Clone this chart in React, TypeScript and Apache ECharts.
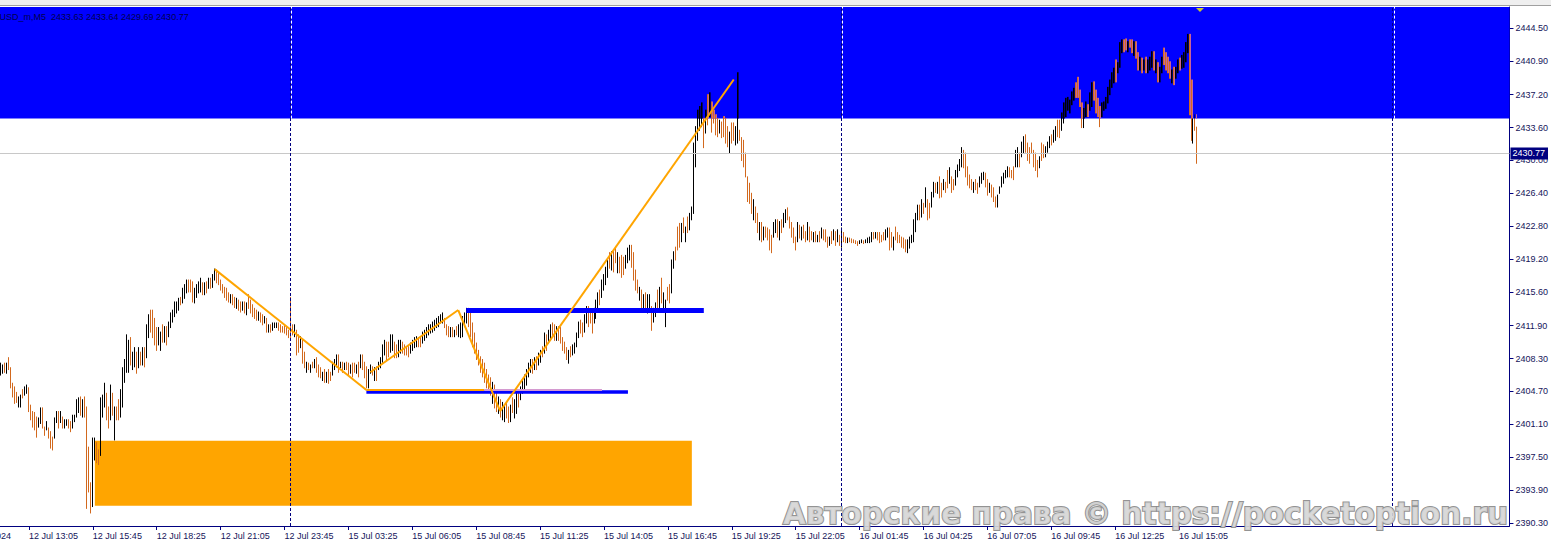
import React, { useEffect, useRef } from 'react';
import * as echarts from 'echarts';

// ---- data: 5-minute bars, XAUUSD (high / low / direction u=up d=down) ----
const jul12Hi = [
  2407.8, 2407.6, 2407.8, 2407.8, 2408.4, 2407.3, 2405.6, 2405.2, 2404.6, 2404.1,
  2404.3, 2404.9, 2405.2, 2405.4, 2405.1, 2403.2, 2402.5, 2402.4, 2401.9, 2401.8,
  2402.9, 2402.9, 2400.8, 2401.4, 2400.7, 2400.3, 2399.7, 2401.8, 2402.5, 2402.5,
  2402.5, 2401.9, 2401.6, 2401.6, 2401.6, 2401.4, 2402.1, 2402.1, 2403.8, 2404.0,
  2404.1, 2403.8, 2404.1, 2403.0, 2398.6, 2394.7, 2399.6, 2399.6, 2399.1, 2398.3,
  2404.0, 2404.3, 2405.6, 2404.5, 2403.0, 2405.4, 2404.5, 2403.0, 2403.0, 2403.8,
  2404.9, 2407.3, 2408.2, 2410.9, 2410.3, 2410.6, 2409.0, 2409.5, 2409.0, 2409.5,
  2409.0, 2409.5, 2409.5, 2412.0, 2413.1, 2413.6, 2413.6, 2412.7, 2411.7, 2411.7,
  2411.2, 2412.0, 2411.8, 2411.8, 2412.3, 2413.3, 2413.6, 2414.5, 2414.5, 2414.9,
  2415.0, 2416.0, 2416.4, 2416.9, 2416.9, 2416.9, 2416.7, 2416.0, 2416.4, 2416.7,
  2417.1, 2416.6, 2416.6, 2416.7, 2417.1, 2417.1, 2417.5, 2418.1, 2418.0, 2417.7,
  2416.9, 2416.4, 2416.1, 2416.0, 2415.5, 2415.3, 2415.3, 2415.0, 2414.9, 2414.7,
  2414.5, 2414.5, 2414.5, 2414.4, 2415.3, 2414.7, 2414.2, 2413.8, 2413.6, 2413.4,
  2413.3, 2413.1, 2412.9, 2412.7, 2412.0, 2412.0, 2412.2, 2412.2, 2412.2, 2412.2,
  2412.0, 2411.8, 2412.0, 2411.7, 2411.4,
];
const jul12Lo = [
  2406.5, 2406.7, 2406.8, 2406.7, 2407.1, 2405.1, 2404.1, 2403.4, 2403.5, 2403.0,
  2403.0, 2404.0, 2404.3, 2404.5, 2402.5, 2401.6, 2400.8, 2400.5, 2399.7, 2400.8,
  2401.2, 2400.7, 2399.9, 2400.5, 2399.6, 2398.5, 2398.3, 2399.6, 2401.3, 2400.7,
  2401.3, 2400.7, 2400.7, 2401.0, 2400.7, 2400.3, 2400.7, 2401.4, 2401.9, 2402.4,
  2402.1, 2401.9, 2401.9, 2391.9, 2393.7, 2391.4, 2392.1, 2397.2, 2396.9, 2396.7,
  2397.7, 2401.9, 2403.0, 2401.6, 2400.7, 2401.6, 2402.1, 2399.4, 2401.6, 2401.6,
  2401.9, 2403.0, 2405.7, 2406.8, 2406.8, 2407.6, 2407.1, 2407.4, 2406.7, 2407.3,
  2407.6, 2407.6, 2407.4, 2408.4, 2410.6, 2411.2, 2410.6, 2409.8, 2409.2, 2409.8,
  2409.2, 2410.1, 2410.1, 2409.8, 2410.7, 2411.7, 2412.3, 2412.9, 2413.3, 2413.6,
  2414.2, 2414.4, 2414.9, 2415.5, 2415.6, 2415.6, 2414.5, 2414.4, 2415.0, 2415.5,
  2415.6, 2415.3, 2415.3, 2415.5, 2416.0, 2416.0, 2416.1, 2416.9, 2416.6, 2416.4,
  2415.8, 2415.5, 2415.0, 2414.7, 2414.5, 2414.4, 2414.2, 2413.9, 2413.8, 2413.6,
  2413.4, 2413.6, 2413.3, 2413.1, 2413.8, 2413.3, 2412.9, 2412.7, 2412.5, 2412.5,
  2412.3, 2412.0, 2412.2, 2411.2, 2411.2, 2411.2, 2411.4, 2411.7, 2411.7, 2411.4,
  2411.2, 2411.2, 2411.1, 2410.9, 2410.6,
];
const jul12Dir =
  'uududddddu' + 'uduudddddu' + 'udduddduud' + 'uduudduuuu' + 'dudddduudd' +
  'uuuddududd' + 'uuuuuduudu' + 'duduuddddu' + 'ududuuuuuu' + 'duuuddduuu' +
  'udududuudd' + 'ddddduddud' + 'dududddddu' + 'ddududuuud' + 'ddddd';

const jul15Hi = [
  2415.0, 2412.0, 2412.0, 2411.4, 2410.9, 2410.7, 2410.3, 2409.0, 2407.9, 2407.8,
  2407.6, 2407.9, 2408.2, 2408.4, 2407.6, 2407.3, 2406.8, 2407.1, 2406.8, 2407.1,
  2406.8, 2407.9, 2408.2, 2408.7, 2408.7, 2407.9, 2407.9, 2407.8, 2407.9, 2407.8,
  2407.6, 2407.8, 2407.8, 2407.6, 2407.9, 2408.7, 2408.7, 2407.9, 2407.4, 2407.1,
  2407.6, 2407.4, 2407.3, 2407.4, 2407.9, 2408.4, 2409.8, 2410.3, 2410.1, 2410.1,
  2410.9, 2410.9, 2410.1, 2409.8, 2410.3, 2410.3, 2410.1, 2409.8, 2409.6, 2409.6,
  2410.0, 2410.3, 2410.6, 2410.7, 2410.6, 2410.7, 2411.2, 2411.4, 2411.7, 2412.0,
  2412.0, 2412.3, 2412.5, 2412.7, 2412.9, 2413.1, 2413.3, 2412.7, 2412.0, 2411.8,
  2411.7, 2411.7, 2411.4, 2411.8, 2412.0, 2412.2, 2412.9, 2413.3, 2413.8, 2413.8,
  2413.6, 2412.2, 2411.1, 2410.0, 2409.2, 2408.5, 2408.2, 2407.8, 2407.1, 2406.5,
  2406.2, 2405.7, 2405.4, 2404.6, 2404.1, 2403.8, 2403.5, 2403.2, 2403.4, 2403.0,
  2403.2, 2404.0, 2403.8, 2404.5, 2404.6, 2405.2, 2406.0, 2406.5, 2407.1, 2407.8,
  2408.2, 2408.2, 2408.4, 2408.5, 2408.9, 2409.2, 2409.6, 2411.1, 2410.9, 2411.4,
  2412.0, 2412.2, 2412.0, 2411.8, 2411.8, 2411.7, 2410.6, 2410.1, 2409.5, 2409.2,
  2409.6, 2409.8, 2410.0, 2411.1, 2412.3, 2412.5, 2412.2, 2413.1, 2414.0, 2414.0,
  2413.4, 2413.6, 2413.8, 2414.7, 2415.5, 2415.8, 2416.9, 2417.5, 2418.3, 2419.1,
  2419.9, 2420.0, 2420.2, 2420.4, 2419.9, 2419.4, 2419.6, 2419.4, 2419.6, 2420.4,
  2420.7, 2420.7, 2419.9, 2418.0, 2416.9, 2416.1, 2415.8, 2415.3, 2415.5, 2415.3,
  2415.3, 2414.0, 2413.8, 2414.4, 2415.8, 2416.1, 2417.1, 2415.5, 2414.7, 2416.1,
  2416.4, 2419.1, 2420.0, 2420.5, 2422.7, 2423.1, 2423.1, 2423.7, 2422.7, 2423.8,
  2424.2, 2424.9, 2431.9, 2433.7, 2435.5, 2435.9, 2436.3, 2434.6, 2435.5, 2437.2,
  2437.4, 2436.4, 2435.5, 2435.0, 2434.6, 2434.4, 2434.2, 2434.8, 2434.6, 2433.7,
  2433.1, 2434.1, 2434.1, 2433.7, 2439.6, 2433.3, 2432.5, 2432.2, 2430.8, 2428.2,
  2427.5, 2426.4, 2425.7, 2424.9, 2424.2, 2423.2, 2423.2, 2422.7, 2422.7, 2422.6,
  2422.4, 2421.8, 2423.2, 2423.5, 2423.5, 2423.3, 2423.5, 2424.2, 2424.6, 2424.8,
  2423.8, 2423.2, 2422.6, 2421.6, 2423.2, 2422.9, 2422.7, 2422.9, 2422.2, 2423.2,
  2422.7, 2422.2, 2422.1, 2422.2, 2421.8, 2422.2, 2422.6, 2422.4, 2422.4, 2421.6,
  2421.6, 2422.2, 2422.4, 2422.2, 2422.4, 2421.8,
];
const jul15Lo = [
  2410.6, 2410.9, 2410.7, 2408.7, 2409.0, 2409.5, 2407.8, 2407.3, 2406.8, 2407.1,
  2406.8, 2407.3, 2407.3, 2406.8, 2406.3, 2406.2, 2405.9, 2405.7, 2405.7, 2405.6,
  2405.9, 2406.5, 2407.1, 2407.4, 2406.8, 2407.3, 2406.8, 2407.1, 2407.1, 2406.5,
  2406.7, 2406.3, 2406.8, 2406.7, 2406.3, 2407.3, 2407.1, 2406.2, 2405.1, 2405.1,
  2406.7, 2406.5, 2405.9, 2405.9, 2407.1, 2407.3, 2407.9, 2408.7, 2408.2, 2408.5,
  2409.0, 2409.2, 2408.4, 2408.4, 2408.5, 2408.9, 2408.9, 2408.7, 2408.7, 2408.5,
  2408.9, 2409.2, 2409.5, 2409.6, 2409.6, 2409.6, 2410.0, 2410.3, 2410.6, 2410.9,
  2411.1, 2411.2, 2411.4, 2411.7, 2411.8, 2412.2, 2412.2, 2411.7, 2410.9, 2410.7,
  2410.7, 2410.7, 2410.7, 2410.9, 2410.7, 2410.6, 2410.7, 2411.8, 2412.2, 2411.8,
  2410.7, 2409.6, 2408.9, 2408.2, 2407.6, 2406.8, 2406.3, 2405.7, 2405.1, 2404.6,
  2404.3, 2403.4, 2402.9, 2402.5, 2402.3, 2401.9, 2401.6, 2401.4, 2401.8, 2401.3,
  2401.4, 2402.4, 2401.8, 2402.3, 2403.0, 2403.8, 2404.5, 2404.9, 2405.4, 2406.3,
  2406.8, 2406.7, 2407.1, 2407.1, 2407.6, 2407.9, 2408.5, 2408.9, 2409.2, 2410.0,
  2410.3, 2410.7, 2410.3, 2410.3, 2410.3, 2410.0, 2409.2, 2408.9, 2408.2, 2407.8,
  2408.5, 2408.7, 2408.9, 2409.6, 2410.6, 2411.1, 2410.7, 2411.2, 2412.2, 2411.8,
  2412.2, 2411.1, 2412.2, 2412.7, 2413.8, 2414.2, 2415.0, 2415.8, 2416.4, 2417.2,
  2418.2, 2418.0, 2417.8, 2418.8, 2417.7, 2417.7, 2417.2, 2417.5, 2418.2, 2418.8,
  2419.1, 2418.3, 2416.9, 2415.8, 2415.5, 2414.7, 2413.9, 2413.8, 2413.6, 2413.3,
  2413.6, 2411.4, 2412.3, 2412.9, 2413.6, 2413.9, 2414.4, 2413.8, 2411.8, 2414.7,
  2414.4, 2415.5, 2418.2, 2419.1, 2420.2, 2420.5, 2421.1, 2422.1, 2421.1, 2422.1,
  2422.4, 2423.5, 2424.2, 2429.3, 2432.2, 2433.3, 2433.7, 2431.4, 2433.0, 2433.9,
  2434.8, 2433.1, 2434.1, 2432.8, 2432.6, 2433.0, 2432.5, 2432.6, 2431.9, 2431.5,
  2430.8, 2431.9, 2432.2, 2431.7, 2431.9, 2432.2, 2430.0, 2429.3, 2428.2, 2425.5,
  2425.3, 2424.2, 2423.5, 2423.2, 2422.1, 2421.3, 2421.1, 2421.3, 2421.6, 2421.3,
  2420.2, 2419.9, 2421.6, 2422.1, 2421.6, 2421.3, 2422.1, 2422.7, 2423.2, 2423.5,
  2422.6, 2421.6, 2421.0, 2420.2, 2421.1, 2421.5, 2421.3, 2421.5, 2421.1, 2421.3,
  2421.1, 2421.3, 2421.1, 2421.1, 2421.1, 2421.1, 2421.5, 2421.3, 2421.1, 2420.5,
  2420.7, 2420.9, 2421.3, 2420.7, 2421.1, 2420.7,
];
const jul15Dir =
  'ddudduddud' + 'ududddudud' + 'duuudududd' + 'uddududddu' + 'ududuuuudd' +
  'uudduudddd' + 'uuuudduuuu' + 'uuuuuuuddd' + 'ududuuuuud' + 'dddddddddd' +
  'dudduduudd' + 'uduuduuuuu' + 'ududuududu' + 'uddudddddu' + 'duuuudduud' +
  'dduuuduuuu' + 'dudduddduu' + 'uddddududu' + 'uduududuud' + 'duudddudud' +
  'uuuuuuudud' + 'uddddudddd' + 'udduuddddd' + 'dduddududd' + 'dduududuud' +
  'ddddududdu' + 'ddudududdd' + 'ududud';

const jul16Hi = [
  2422.6, 2422.1, 2421.6, 2421.5, 2421.5, 2421.4, 2421.3, 2421.2, 2421.1, 2421.2,
  2421.3, 2421.2, 2421.3, 2421.5, 2421.6, 2422.1, 2422.1, 2422.1, 2422.1, 2422.1,
  2421.8, 2422.1, 2422.4, 2422.6, 2422.6, 2422.1, 2421.6, 2422.7, 2422.1, 2421.8,
  2421.6, 2421.5, 2421.3, 2421.3, 2421.6, 2421.8, 2423.5, 2424.2, 2425.1, 2425.1,
  2425.7, 2425.3, 2427.0, 2425.7, 2425.3, 2426.5, 2427.6, 2427.5, 2427.6, 2428.2,
  2427.5, 2427.9, 2427.6, 2428.9, 2429.2, 2428.2, 2427.9, 2428.9, 2429.5, 2430.1,
  2431.4, 2431.1, 2430.8, 2429.3, 2428.4, 2427.9, 2427.6, 2427.9, 2427.5, 2428.2,
  2428.6, 2428.7, 2428.6, 2427.9, 2427.5, 2427.3, 2427.0, 2426.0, 2426.2, 2427.1,
  2428.2, 2428.6, 2428.9, 2429.3, 2429.2, 2428.9, 2429.3, 2431.1, 2431.4, 2430.8,
  2432.0, 2432.6, 2432.8, 2431.9, 2431.4, 2431.9, 2431.1, 2430.8, 2430.0, 2430.4,
  2431.9, 2431.7, 2431.5, 2432.0, 2432.6, 2432.8, 2433.3, 2433.7, 2434.4, 2434.4,
  2435.2, 2436.3, 2436.8, 2436.9, 2436.6, 2437.5, 2437.9, 2438.5, 2439.1, 2437.7,
  2436.3, 2435.7, 2436.4, 2436.1, 2437.4, 2438.5, 2438.6, 2437.7, 2436.8, 2435.9,
  2436.3, 2436.4, 2436.9, 2438.0, 2438.8, 2439.6, 2440.1, 2441.0, 2440.7, 2442.9,
  2443.2, 2443.2, 2443.3, 2443.0, 2443.2, 2443.2, 2443.0, 2443.0, 2441.8, 2441.3,
  2441.2, 2441.0, 2441.3, 2441.0, 2441.3, 2441.9, 2441.9, 2441.0, 2440.7, 2440.2,
  2441.3, 2442.3, 2441.8, 2441.3, 2440.8, 2439.9, 2440.2, 2440.2, 2441.0, 2441.2,
  2441.5, 2441.8, 2442.9, 2443.8, 2443.8, 2438.8, 2435.0, 2435.0, 2433.64,
];
const jul16Lo = [
  2420.5, 2421.1, 2421.0, 2421.0, 2421.1, 2421.0, 2421.0, 2420.9, 2420.7, 2420.9,
  2421.0, 2420.9, 2421.0, 2421.0, 2421.0, 2421.1, 2421.4, 2421.5, 2421.3, 2421.0,
  2421.1, 2421.3, 2421.3, 2421.6, 2420.2, 2420.5, 2420.2, 2421.3, 2421.0, 2421.0,
  2420.5, 2420.4, 2420.0, 2419.9, 2420.4, 2421.0, 2421.1, 2422.2, 2423.5, 2423.5,
  2423.8, 2424.2, 2424.9, 2423.5, 2423.7, 2424.9, 2426.0, 2426.5, 2426.4, 2425.9,
  2426.0, 2426.8, 2426.5, 2427.0, 2427.5, 2426.5, 2426.8, 2427.3, 2428.2, 2428.9,
  2429.3, 2429.2, 2428.2, 2427.3, 2427.0, 2426.8, 2426.5, 2426.8, 2426.4, 2427.1,
  2427.5, 2427.9, 2427.1, 2426.2, 2426.5, 2426.0, 2425.5, 2424.9, 2424.9, 2426.4,
  2427.1, 2427.5, 2428.1, 2428.2, 2428.2, 2428.1, 2427.9, 2429.3, 2429.3, 2429.3,
  2430.4, 2430.8, 2430.9, 2430.0, 2429.7, 2430.8, 2429.3, 2428.9, 2428.2, 2429.2,
  2430.0, 2430.3, 2430.4, 2430.9, 2431.4, 2431.7, 2432.0, 2432.2, 2432.6, 2432.5,
  2433.3, 2434.1, 2434.8, 2435.5, 2435.2, 2436.1, 2436.6, 2436.9, 2436.9, 2435.9,
  2433.6, 2433.6, 2434.8, 2434.8, 2435.5, 2435.9, 2436.6, 2435.2, 2434.8, 2433.7,
  2434.8, 2435.5, 2435.7, 2436.3, 2437.2, 2438.0, 2438.5, 2438.6, 2439.6, 2440.2,
  2441.8, 2441.9, 2442.1, 2441.9, 2442.4, 2441.8, 2441.5, 2441.2, 2439.9, 2439.9,
  2439.6, 2439.9, 2439.6, 2439.6, 2439.9, 2440.2, 2439.9, 2439.6, 2438.6, 2438.6,
  2439.6, 2440.5, 2439.9, 2439.6, 2439.0, 2438.5, 2438.3, 2439.0, 2439.6, 2439.9,
  2440.1, 2440.2, 2440.8, 2441.8, 2435.0, 2432.2, 2431.9, 2433.3, 2429.69,
];
const jul16Dir =
  'uddudddddu' + 'uduuuududd' + 'dduudduddd' + 'ddduuuuuud' + 'ududduudud' +
  'duddudduuu' + 'uddddduddu' + 'uudduddduu' + 'uuuuddduud' + 'uudddddddu' +
  'dduuuduudd' + 'uuuuuuuddd' + 'duuduudddd' + 'uuuuuuuduu' + 'uddudduddu' +
  'duduuududu' + 'udddduduud' + 'uuuuddudd';

// chart levels & drawings (prices)
const yTickLabels = [
  '2444.50', '2440.90', '2437.20', '2433.60', '2430.00', '2426.40', '2422.80', '2419.20',
  '2415.60', '2411.90', '2408.30', '2404.70', '2401.10', '2397.50', '2393.90', '2390.30',
];
const lastPrice = 2430.77;
const supplyZone = { low: 2434.58 };
const demandZone = { from: 47, to: 346, high: 2399.31, low: 2392.2 };
const zigzag = [
  { i: 107, p: 2418.1 },
  { i: 183, p: 2404.86 },
];
const swingUp = [
  { i: 185, p: 2406.8 },
  { i: 229, p: 2413.62 },
  { i: 250, p: 2402.55 },
  { i: 367, p: 2438.86 },
];
const levelHigh = { from: 233, to: 352, p: 2413.54 };
const levelLow = { from: 183, to: 314, p: 2404.68 };
const levelLowMark = { from: 183, to: 242, p: 2404.86 };
const levelLowMark2 = { from: 242, to: 301, p: 2404.86 };

// time axis (M5 bars, with weekend and daily break)
const sessions = [
  { day: '12 Jul', startMin: 11 * 60 + 55, bars: 145 },
  { day: '15 Jul', startMin: 60, bars: 276 },
  { day: '16 Jul', startMin: 60, bars: 276 },
  { day: '17 Jul', startMin: 60, bars: 59 },
];
const pad = (n: number) => (n < 10 ? '0' + n : '' + n);
const categories: string[] = [];
for (const s of sessions) {
  for (let k = 0; k < s.bars; k++) {
    const m = s.startMin + 5 * k;
    categories.push(`${s.day} ${pad(Math.floor(m / 60))}:${pad(m % 60)}`);
  }
}
const daySeparators = ['15 Jul 01:00', '16 Jul 01:00', '17 Jul 01:00'];

const hiAll = [...jul12Hi, ...jul15Hi, ...jul16Hi];
const loAll = [...jul12Lo, ...jul15Lo, ...jul16Lo];
const dirAll = (jul12Dir + jul15Dir + jul16Dir).split('');
const barData = hiAll.map((h, i) => [i, loAll[i], h, dirAll[i] === 'u' ? 1 : 0]);
const barCount = hiAll.length;

const Y_MIN = 2389.97;
const Y_MAX = 2446.8;
const GRID_TOP = 7;
const GRID_BOTTOM = 17;
const CHART_H = 543;
const NAVY = '#000080';
const LABEL = '#14145a';
const FONT = 'Liberation Sans';

export default function App() {
  const ref = useRef<HTMLDivElement>(null);
  useEffect(() => {
    document.body.style.margin = '0';
    const chart = echarts.init(ref.current!, null, { renderer: 'svg' });
    const gridH = CHART_H - GRID_TOP - GRID_BOTTOM;
    const pxPerUnit = gridH / (Y_MAX - Y_MIN);
    const zoneH = (Y_MAX - supplyZone.low) * pxPerUnit;

    const labelShown = (idx: number) => idx >= 14 && idx < barCount && (idx - 14) % 32 === 0;
    const cat = (i: number) => categories[i];

    const makeBars = (up: string, down: string) => (params: any, api: any) => {
      const i = api.value(0);
      const a = api.coord([i, api.value(1)]);
      const b = api.coord([i, api.value(2)]);
      const x = Math.round(a[0] - 0.5) + 0.5;
      return {
        type: 'line',
        shape: { x1: x, y1: a[1] + 0.5, x2: x, y2: b[1] - 0.5 },
        style: { stroke: api.value(3) === 1 ? up : down, lineWidth: 1 },
      };
    };

    const seg = (a: { i: number; p: number }, b: { i: number; p: number }) => [
      { coord: [cat(a.i), a.p] },
      { coord: [cat(b.i), b.p] },
    ];
    const hline = (l: { from: number; to: number; p: number }) => [
      { coord: [cat(l.from), l.p] },
      { coord: [cat(l.to), l.p] },
    ];
    const styled = (pair: any[], lineStyle: any) => [{ ...pair[0], lineStyle }, pair[1]];
    const swingSegs = [
      seg(zigzag[0], zigzag[1]),
      seg(swingUp[0], swingUp[1]),
      seg(swingUp[1], swingUp[2]),
      seg(swingUp[2], swingUp[3]),
    ];

    const xAxisBase = {
      type: 'category',
      data: categories,
      boundaryGap: true,
    };

    chart.setOption({
      animation: false,
      backgroundColor: '#ffffff',
      grid: [
        { left: -0.5, right: 39.5, top: GRID_TOP, bottom: GRID_BOTTOM },
        { left: -0.5, right: 39.5, top: GRID_TOP, height: zoneH },
      ],
      xAxis: [
        {
          ...xAxisBase,
          gridIndex: 0,
          axisLine: { show: true, lineStyle: { color: NAVY, width: 1 } },
          axisTick: { show: true, alignWithLabel: true, interval: labelShown, length: 4, lineStyle: { color: NAVY } },
          axisLabel: {
            show: true,
            interval: labelShown,
            align: 'left',
            margin: 5,
            color: LABEL,
            fontFamily: FONT,
            fontSize: 9,
          },
          splitLine: { show: false },
        },
        { ...xAxisBase, gridIndex: 1, show: false },
      ],
      yAxis: [
        {
          type: 'value',
          gridIndex: 0,
          position: 'right',
          min: Y_MIN,
          max: Y_MAX,
          axisLine: { show: true, lineStyle: { color: NAVY, width: 1 } },
          axisTick: { show: true, length: 4, lineStyle: { color: NAVY }, customValues: yTickLabels.map(Number) },
          axisLabel: {
            show: true,
            customValues: yTickLabels.map(Number),
            formatter: (v: number) => v.toFixed(2),
            margin: 6,
            color: LABEL,
            fontFamily: FONT,
            fontSize: 9,
          },
          splitLine: { show: false },
        },
        { type: 'value', gridIndex: 1, min: supplyZone.low, max: Y_MAX, show: false, splitLine: { show: false } },
      ],
      series: [
        {
          type: 'line',
          name: 'zones',
          xAxisIndex: 0,
          yAxisIndex: 0,
          data: [],
          z: 1,
          silent: true,
          markArea: {
            silent: true,
            data: [
              [
                { yAxis: supplyZone.low, itemStyle: { color: '#0000ff', opacity: 1 } },
                { yAxis: Y_MAX },
              ],
              [
                { xAxis: cat(demandZone.from), yAxis: demandZone.high, itemStyle: { color: '#ffa500', opacity: 1 } },
                { xAxis: cat(demandZone.to), yAxis: demandZone.low },
              ],
            ],
          },
          markLine: {
            silent: true,
            symbol: ['none', 'none'],
            label: { show: false },
            data: [
              styled(hline(levelLow), { color: '#0000ff', width: 3.5, type: 'solid' }),
              styled(hline(levelHigh), { color: '#0000ff', width: 5, type: 'solid' }),
              styled(hline(levelLowMark), { color: '#ffa500', width: 2, type: 'solid' }),
              styled(hline(levelLowMark2), { color: '#d49ad0', width: 2, type: 'solid' }),
              {
                yAxis: lastPrice,
                lineStyle: { color: '#c8c8c8', width: 1, type: 'solid' },
                label: {
                  show: true,
                  position: 'end',
                  formatter: lastPrice.toFixed(2),
                  color: '#ffffff',
                  backgroundColor: NAVY,
                  padding: [2, 3, 1, 2],
                  distance: 1,
                  fontFamily: FONT,
                  fontSize: 9,
                },
              },
            ],
          },
        },
        {
          type: 'custom',
          name: 'XAUUSD M5',
          xAxisIndex: 0,
          yAxisIndex: 0,
          z: 2,
          clip: true,
          silent: true,
          encode: { x: 0, y: [1, 2] },
          data: barData,
          renderItem: makeBars('#000000', '#d2691e'),
        },
        {
          type: 'line',
          name: 'drawings',
          xAxisIndex: 0,
          yAxisIndex: 0,
          data: [],
          z: 3,
          silent: true,
          markLine: {
            silent: true,
            symbol: ['none', 'none'],
            label: { show: false },
            data: [
              ...swingSegs.map((s) => styled(s, { color: '#ffa500', width: 2, type: 'solid' })),
              ...daySeparators.map((d) => ({ xAxis: d, lineStyle: { color: NAVY, width: 1, type: [3, 2] } })),
            ],
          },
        },
        {
          type: 'custom',
          name: 'zone tint',
          xAxisIndex: 1,
          yAxisIndex: 1,
          z: 4,
          clip: true,
          silent: true,
          encode: { x: 0, y: [1, 2] },
          data: barData,
          renderItem: makeBars('#00006e', '#c8649a'),
        },
        {
          type: 'line',
          name: 'zone drawings',
          xAxisIndex: 1,
          yAxisIndex: 1,
          data: [],
          z: 5,
          clip: true,
          silent: true,
          markLine: {
            silent: true,
            symbol: ['none', 'none'],
            label: { show: false },
            data: [
              styled(seg(swingUp[2], swingUp[3]), { color: '#d88c8c', width: 2, type: 'solid' }),
              ...daySeparators.map((d) => ({ xAxis: d, lineStyle: { color: '#ffffff', width: 1, type: [3, 2] } })),
            ],
          },
        },
      ],
      graphic: [
        { type: 'rect', shape: { x: 0, y: 0, width: 1551, height: 5 }, style: { fill: '#efefef' }, z: 50 },
        { type: 'line', shape: { x1: 0, y1: 5.5, x2: 1551, y2: 5.5 }, style: { stroke: '#a0a0a0', lineWidth: 1 }, z: 50 },
        {
          type: 'text',
          x: -19,
          y: 17,
          z: 50,
          style: {
            text: 'XAUUSD_m,M5  2433.63 2433.64 2429.69 2430.77',
            fill: '#000050',
            font: `9px "${FONT}"`,
            verticalAlign: 'middle',
          },
        },
        {
          type: 'polygon',
          z: 50,
          shape: { points: [[1196, 8], [1204, 8], [1200, 12]] },
          style: { fill: '#c8c832' },
        },
        {
          type: 'text',
          x: 11,
          y: 535.5,
          z: 50,
          style: {
            text: '12 Jul 2024',
            fill: LABEL,
            font: `9px "${FONT}"`,
            align: 'right',
            verticalAlign: 'middle',
          },
        },
        {
          type: 'text',
          x: 783,
          y: 514,
          z: 60,
          style: {
            text: 'Авторские права © https://pocketoption.ru',
            fill: '#d6d6d6',
            stroke: '#888888',
            lineWidth: 2,
            font: 'bold 29.5px "DejaVu Sans"',
            verticalAlign: 'middle',
            opacity: 0.92,
          },
        },
      ],
    });
    return () => chart.dispose();
  }, []);
  return <div ref={ref} style={{ position: 'absolute', left: 0, top: 0, width: 1551, height: 543 }} />;
}
